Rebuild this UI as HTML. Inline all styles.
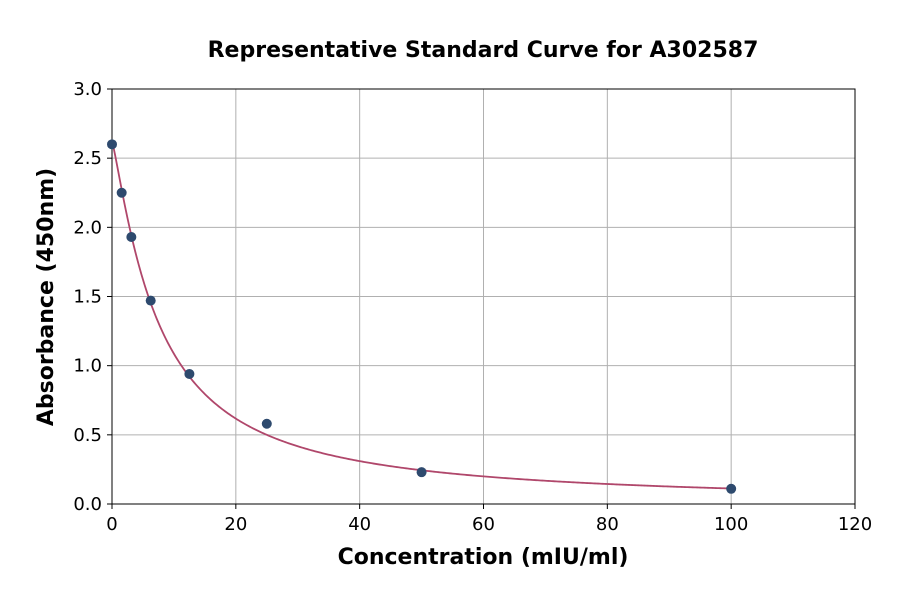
<!DOCTYPE html>
<html><head><meta charset="utf-8"><style>
body{margin:0;background:#fff;}
svg{display:block;font-family:"DejaVu Sans","Liberation Sans",sans-serif;}
</style></head><body>
<svg id="chart" width="900" height="594">
<text x="483" y="57" text-anchor="middle" font-size="22" font-weight="bold">Representative Standard Curve for A302587</text>
<g id="grid"></g>
<g id="axes"></g>
<path id="curve" fill="none" stroke="#b0476b" stroke-width="1.8"></path>
<g id="pts"></g>
<text x="483" y="564" text-anchor="middle" font-size="22" font-weight="bold">Concentration (mIU/ml)</text>
<text transform="translate(53,297) rotate(-90)" text-anchor="middle" font-size="22" font-weight="bold">Absorbance (450nm)</text>
</svg>
<script>
const concentrations=[0,1.5625,3.125,6.25,12.5,25,50,100];
const absorbances=[2.6,2.25,1.93,1.47,0.94,0.58,0.23,0.11];
const xTicks=[0,20,40,60,80,100,120];
const yTicks=[0,0.5,1.0,1.5,2.0,2.5,3.0];
const fitA=2.62, fitB=1.2, fitC=7.5, fitD=0;
const L=112,R=855,T=89,B=504;
const sx=v=>L+(v-0)/(120-0)*(R-L);
const sy=v=>B-(v-0)/(3-0)*(B-T);
const NS="http://www.w3.org/2000/svg";
function mk(t,a,p){const e=document.createElementNS(NS,t);for(const k in a)e.setAttribute(k,a[k]);p.appendChild(e);return e;}
const grid=document.getElementById('grid'),axes=document.getElementById('axes');
xTicks.forEach(v=>{
 const g=mk('line',{x1:sx(v),x2:sx(v),y1:T,y2:B,stroke:'#b0b0b0','stroke-width':1},grid);
 
 
 const tk=mk('line',{x1:sx(v),x2:sx(v),y1:B,y2:B+5,stroke:'#000'},axes);
 
 
 const t=mk('text',{x:sx(v),y:B+26,'text-anchor':'middle','font-size':18},axes);
 t.textContent=v;
 
 
});
yTicks.forEach(v=>{
 const g=mk('line',{x1:L,x2:R,y1:sy(v),y2:sy(v),stroke:'#b0b0b0','stroke-width':1},grid);
 
 
 const tk=mk('line',{x1:L-5,x2:L,y1:sy(v),y2:sy(v),stroke:'#000'},axes);
 
 
 const t=mk('text',{x:L-10,y:sy(v)+6,'text-anchor':'end','font-size':18},axes);
 t.textContent=v.toFixed(1);
 
 
});
const fr=mk('rect',{x:L,y:T,width:R-L,height:B-T,fill:'none',stroke:'#000','stroke-width':1},axes);


let d='';
for(let i=0;i<=400;i++){const x=100*i/400;const y=fitD+(fitA-fitD)/(1+Math.pow(x/fitC,fitB));d+=(i?'L':'M')+sx(x).toFixed(2)+','+sy(y).toFixed(2);}
document.getElementById('curve').setAttribute('d',d);
const pts=document.getElementById('pts');
concentrations.forEach((c,i)=>{
 const p=mk('circle',{cx:sx(c),cy:sy(absorbances[i]),r:5,fill:'#2e4a6e'},pts);
 
 
});
</script>
</body></html>
